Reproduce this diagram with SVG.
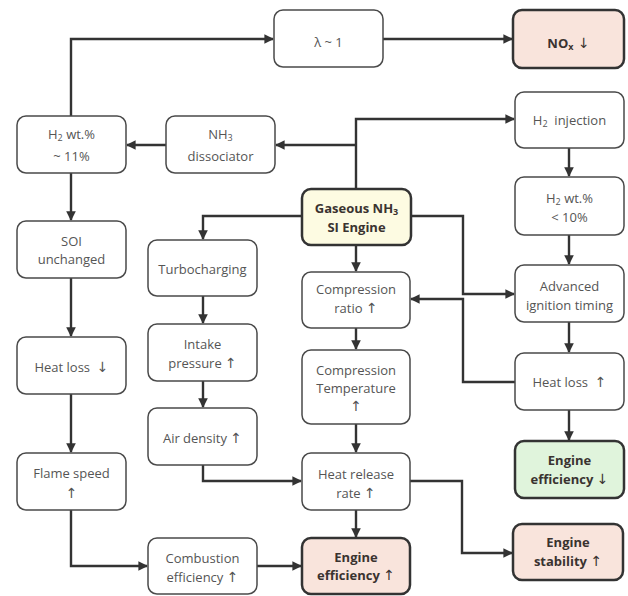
<svg xmlns="http://www.w3.org/2000/svg" width="628" height="596" viewBox="0 0 628 596">
<style>
.b{fill:#fff;stroke:#4a4a4a;stroke-width:1.5}
.h{stroke:#333;stroke-width:2.5}
.pink{fill:#f9e4dc}
.green{fill:#e0f4dc}
.yel{fill:#fdfbe2}
text{font-family:"Open Sans","Liberation Sans",sans-serif;font-size:13px;fill:#555;text-anchor:middle;dominant-baseline:central;white-space:pre}
.bt{font-weight:bold;fill:#3a3330}
.c{fill:none;stroke:#333;stroke-width:2.4}
.s{font-size:9px}
.ar{font-family:"DejaVu Sans",sans-serif;font-size:14px;font-weight:normal}
</style>
<defs>
<marker id="a" viewBox="0 0 10 10" refX="9" refY="5" markerWidth="4" markerHeight="4" orient="auto" markerUnits="strokeWidth">
<path d="M0,0L10,5L0,10z" fill="#333"/>
</marker>
</defs>
<g id="connectors" class="c" marker-end="url(#a)">
<path d="M71,116V39H273"/>
<path d="M383,39H512"/>
<path d="M356,189V119H514"/>
<path d="M356,145H276"/>
<path d="M166,145H127"/>
<path d="M71,173V220"/>
<path d="M71,278V336"/>
<path d="M71,394V452"/>
<path d="M71,510V566H147"/>
<path d="M257,566H301"/>
<path d="M302,216H203V239"/>
<path d="M203,296V323"/>
<path d="M203,381V407"/>
<path d="M203,465V481H301"/>
<path d="M356,245V271"/>
<path d="M356,328V349"/>
<path d="M356,424V452"/>
<path d="M356,510V537"/>
<path d="M410,481H462V553H512"/>
<path d="M411,216H463V294H514"/>
<path d="M515,382H463V299H411"/>
<path d="M569,148V176"/>
<path d="M569,235V264"/>
<path d="M569,322V352"/>
<path d="M569,410V440"/>
</g>
<g id="lambda"><rect class="b" x="274" y="10" width="109" height="57" rx="9"/><text x="328.5" y="42">λ ~ 1</text></g>
<g id="nox"><rect class="b h pink" x="513" y="10" width="111" height="58" rx="9"/><text class="bt" x="568.5" y="43">NO<tspan class="s" dy="3">x</tspan><tspan class="ar" dy="-3" font-weight="bold"> ↓</tspan></text></g>
<g id="h2wt11"><rect class="b" x="17" y="116" width="109" height="57" rx="9"/><text x="71.5" y="134">H<tspan class="s" dy="3">2</tspan><tspan dy="-3"> wt.%</tspan></text><text x="71.5" y="156">~ 11%</text></g>
<g id="dissociator"><rect class="b" x="166" y="116" width="109" height="57" rx="9"/><text x="220.5" y="134">NH<tspan class="s" dy="3">3</tspan></text><text x="220.5" y="156">dissociator</text></g>
<g id="h2inj"><rect class="b" x="515" y="92" width="109" height="56" rx="9"/><text x="569.5" y="120">H<tspan class="s" dy="3">2</tspan><tspan dy="-3">  injection</tspan></text></g>
<g id="h2wt10"><rect class="b" x="515" y="177" width="109" height="58" rx="9"/><text x="569.5" y="198">H<tspan class="s" dy="3">2</tspan><tspan dy="-3"> wt.%</tspan></text><text x="569.5" y="217">&lt; 10%</text></g>
<g id="engine"><rect class="b h yel" x="302" y="189" width="109" height="56" rx="9"/><text class="bt" x="356.5" y="208">Gaseous NH<tspan class="s" dy="3">3</tspan></text><text class="bt" x="356.5" y="227">SI Engine</text></g>
<g id="soi"><rect class="b" x="17" y="221" width="109" height="57" rx="9"/><text x="71.5" y="241">SOI</text><text x="71.5" y="259">unchanged</text></g>
<g id="turbo"><rect class="b" x="148" y="240" width="109" height="56" rx="9"/><text x="202.5" y="269">Turbocharging</text></g>
<g id="cr"><rect class="b" x="302" y="272" width="108" height="56" rx="9"/><text x="356" y="289">Compression</text><text x="356" y="308">ratio <tspan class="ar">↑</tspan></text></g>
<g id="adv"><rect class="b" x="515" y="265" width="109" height="57" rx="9"/><text x="569.5" y="286">Advanced</text><text x="569.5" y="305">ignition timing</text></g>
<g id="heatlossdown"><rect class="b" x="17" y="337" width="109" height="57" rx="9"/><text x="71.5" y="367">Heat loss  <tspan class="ar">↓</tspan></text></g>
<g id="intake"><rect class="b" x="148" y="324" width="109" height="57" rx="9"/><text x="202.5" y="344">Intake</text><text x="202.5" y="363">pressure <tspan class="ar">↑</tspan></text></g>
<g id="ct"><rect class="b" x="302" y="350" width="108" height="74" rx="9"/><text x="356" y="370">Compression</text><text x="356" y="388">Temperature</text><text class="ar" x="356" y="406">↑</text></g>
<g id="heatlossup"><rect class="b" x="515" y="353" width="109" height="57" rx="9"/><text x="569.5" y="382">Heat loss  <tspan class="ar">↑</tspan></text></g>
<g id="air"><rect class="b" x="148" y="408" width="109" height="57" rx="9"/><text x="202.5" y="438">Air density <tspan class="ar">↑</tspan></text></g>
<g id="flame"><rect class="b" x="17" y="453" width="109" height="57" rx="9"/><text x="71.5" y="473">Flame speed</text><text class="ar" x="71.5" y="493">↑</text></g>
<g id="hrr"><rect class="b" x="302" y="453" width="108" height="57" rx="9"/><text x="356" y="474">Heat release</text><text x="356" y="493">rate <tspan class="ar">↑</tspan></text></g>
<g id="effdown"><rect class="b h green" x="515" y="441" width="109" height="57" rx="9"/><text class="bt" x="569.5" y="460">Engine</text><text class="bt" x="569.5" y="479">efficiency <tspan class="ar" font-weight="bold">↓</tspan></text></g>
<g id="stab"><rect class="b h pink" x="513" y="524" width="110" height="56" rx="9"/><text class="bt" x="568" y="542">Engine</text><text class="bt" x="568" y="561">stability <tspan class="ar" font-weight="bold">↑</tspan></text></g>
<g id="comb"><rect class="b" x="148" y="538" width="109" height="56" rx="9"/><text x="202.5" y="558">Combustion</text><text x="202.5" y="577">efficiency <tspan class="ar">↑</tspan></text></g>
<g id="effup"><rect class="b h pink" x="302" y="538" width="108" height="56" rx="9"/><text class="bt" x="356" y="557">Engine</text><text class="bt" x="356" y="575">efficiency <tspan class="ar" font-weight="bold">↑</tspan></text></g>
</svg>
